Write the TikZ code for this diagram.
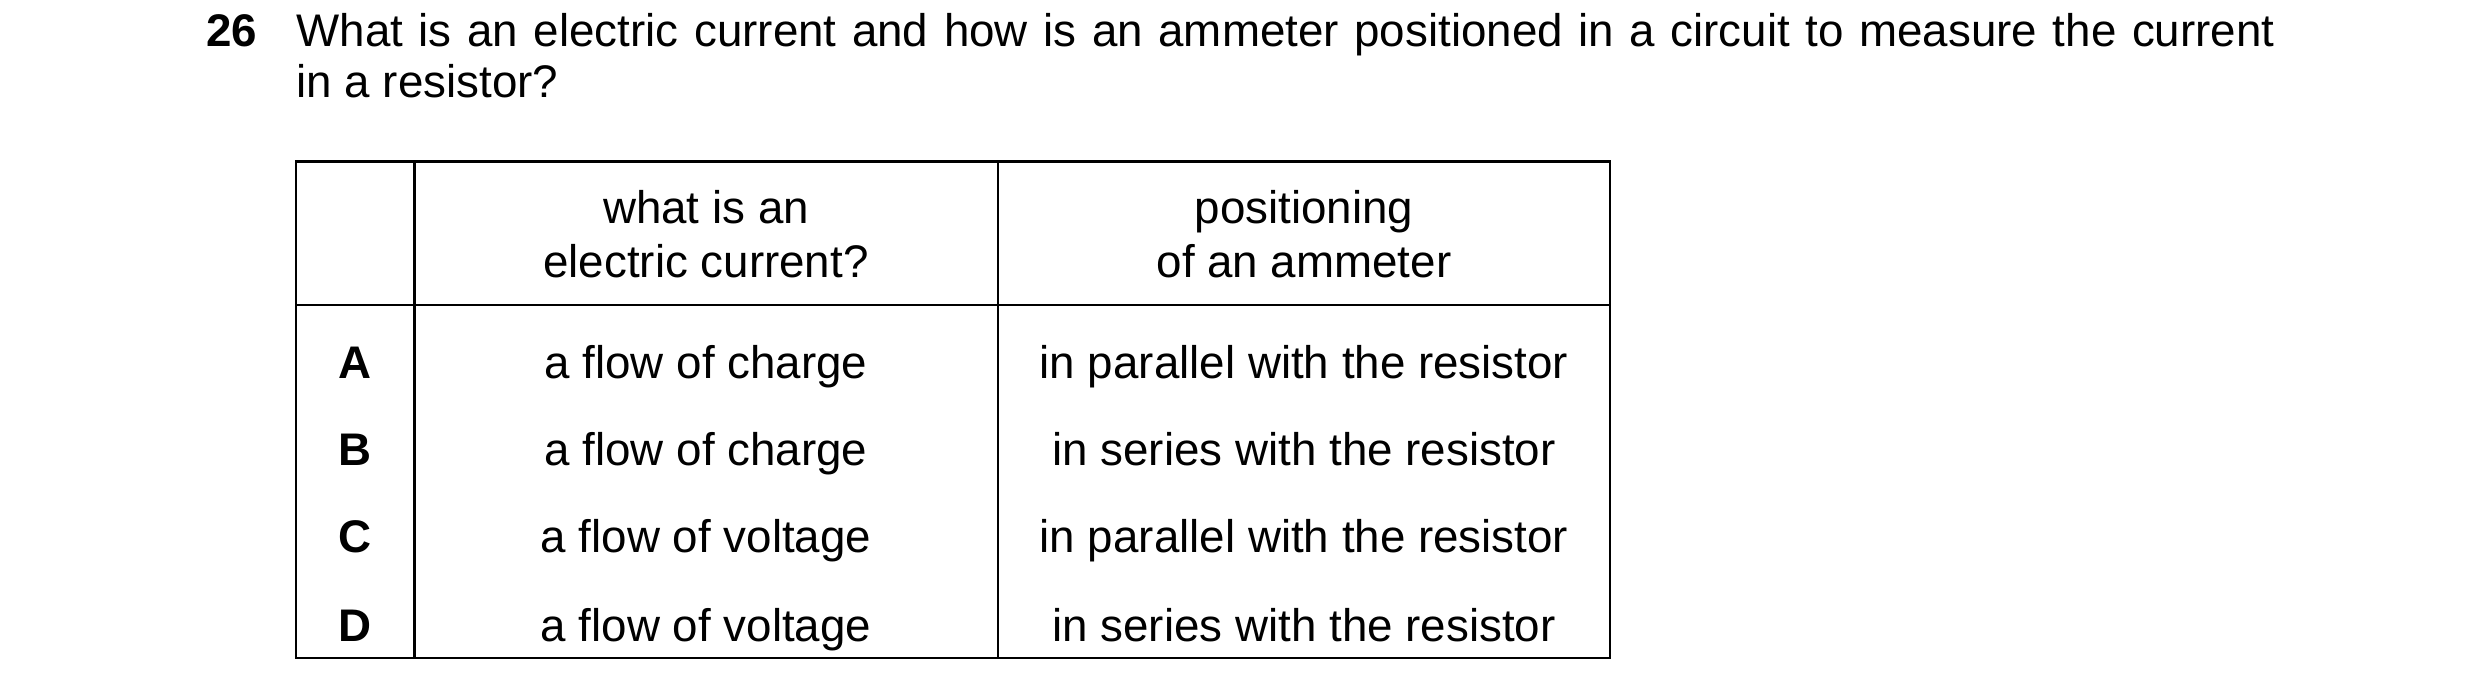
\documentclass[tikz,border=0pt]{standalone}
\usepackage{fontspec}
\setmainfont{Liberation Sans}
\begin{document}
\begin{tikzpicture}[x=0.01cm,y=-0.01cm,
  txt/.style={font=\fontsize{13}{14.6}\selectfont,inner sep=0pt},
  lbl/.style={txt,font=\fontsize{13}{14.6}\selectfont\bfseries},
  grid/.style={line width=0.7pt}]
\useasboundingbox (0,0) rectangle (2480,699);
\node[lbl,anchor=base east] (num) at (257.8,46) {26};
\node[txt,anchor=base west,text width=19.77cm,align=justify] (q) at (295.8,46)
 {What is an electric current and how is an ammeter positioned in a circuit to measure the current\linebreak in a resistor?};
\draw[grid] (295.8,161.3) rectangle (1610,658);
\draw[grid] (295.8,305.2) -- (1610,305.2);
\draw[grid] (414.4,161.3) -- (414.4,658);
\draw[grid] (998,161.3) -- (998,658);
\node[txt,anchor=base] (h2a) at (706,223) {what is an};
\node[txt,anchor=base] (h2b) at (706,277) {electric current?};
\node[txt,anchor=base] (h3a) at (1304,223) {positioning};
\node[txt,anchor=base] (h3b) at (1304,277) {of an ammeter};
\foreach \l/\a/\b/\y in {A/a flow of charge/in parallel with the resistor/378,
  B/a flow of charge/in series with the resistor/465,
  C/a flow of voltage/in parallel with the resistor/552,
  D/a flow of voltage/in series with the resistor/641}{
  \node[lbl,anchor=base] (l\l) at (355,\y) {\l};
  \node[txt,anchor=base] (a\l) at (706,\y) {\a};
  \node[txt,anchor=base] (b\l) at (1304,\y) {\b};
}
\end{tikzpicture}
\end{document}
